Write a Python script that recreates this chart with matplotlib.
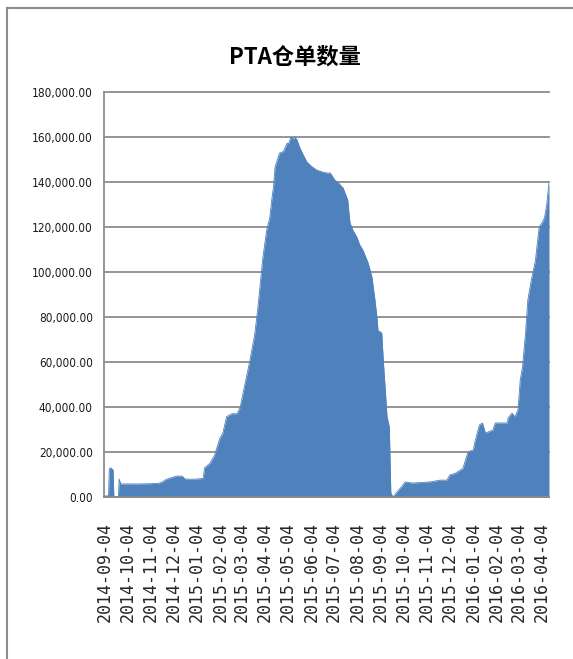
# PTA仓单数量 - area chart

import matplotlib
matplotlib.use("Agg")
import matplotlib.pyplot as plt
from matplotlib.lines import Line2D
from matplotlib.ticker import FuncFormatter
import pandas as pd

plt.rcParams['font.family'] = ['Noto Sans CJK SC', 'DejaVu Sans']

title = "PTA仓单数量"

# дата / количество
dates = [
    "2014-09-04", "2014-09-09", "2014-09-10", "2014-09-12", "2014-09-15", "2014-09-16",
    "2014-09-22", "2014-09-23", "2014-09-25", "2014-10-08", "2014-10-20", "2014-11-03",
    "2014-11-14", "2014-11-18", "2014-11-24", "2014-12-01", "2014-12-08", "2014-12-15",
    "2014-12-19", "2014-12-26", "2015-01-05", "2015-01-12", "2015-01-14", "2015-01-21",
    "2015-01-27", "2015-02-03", "2015-02-07", "2015-02-12", "2015-02-19", "2015-02-26",
    "2015-03-02", "2015-03-08", "2015-03-15", "2015-03-21", "2015-03-25", "2015-04-01",
    "2015-04-06", "2015-04-10", "2015-04-13", "2015-04-15", "2015-04-17", "2015-04-23",
    "2015-04-28", "2015-05-03", "2015-05-05", "2015-05-08", "2015-05-11", "2015-05-13",
    "2015-05-16", "2015-05-20", "2015-05-23", "2015-05-29", "2015-06-04", "2015-06-11",
    "2015-06-18", "2015-06-24", "2015-06-29", "2015-07-05", "2015-07-10", "2015-07-16",
    "2015-07-22", "2015-07-25", "2015-07-29", "2015-08-03", "2015-08-07", "2015-08-11",
    "2015-08-18", "2015-08-23", "2015-08-27", "2015-08-30", "2015-08-31", "2015-09-05",
    "2015-09-07", "2015-09-12", "2015-09-15", "2015-09-17", "2015-09-20", "2015-09-25",
    "2015-10-01", "2015-10-06", "2015-10-15", "2015-10-30", "2015-11-10", "2015-11-21",
    "2015-11-30", "2015-12-04", "2015-12-11", "2015-12-18", "2015-12-21", "2015-12-28",
    "2016-01-04", "2016-01-06", "2016-01-12", "2016-01-16", "2016-01-20", "2016-01-30",
    "2016-02-02", "2016-02-18", "2016-02-19", "2016-02-24", "2016-02-28", "2016-03-03",
    "2016-03-06", "2016-03-09", "2016-03-13", "2016-03-16", "2016-03-21", "2016-03-26",
    "2016-03-31", "2016-04-04", "2016-04-07", "2016-04-10", "2016-04-13",
]
values = [
    500, 500, 12500, 13000, 12000, 0,
    0, 8000, 5800, 5800, 5800, 5900,
    6100, 6500, 7800, 8600, 9300, 9300,
    8000, 7900, 8000, 8300, 13000, 15000,
    18500, 26000, 28400, 35700, 37000, 37000,
    40000, 49800, 61000, 72000, 83000, 106600,
    118700, 124000, 133000, 138000, 146700, 152900,
    153500, 157300, 157000, 160000, 159000, 160000,
    158700, 155000, 152900, 148900, 147000, 145300,
    144500, 144000, 144000, 140900, 139500, 137300,
    132000, 121800, 118500, 115600, 112000, 109800,
    104000, 97800, 87600, 78700, 74000, 72900,
    60900, 35600, 31100, 1800, 0, 2200,
    4500, 6700, 6200, 6500, 6800, 7500,
    7500, 9800, 10500, 12000, 12500, 20000,
    20900, 24400, 32000, 32900, 28400, 29800,
    32900, 32900, 35100, 37300, 35600, 38700,
    52000, 57800, 72900, 87600, 97000, 105000,
    120000, 122000, 124000, 130000, 140000,
]

# подписи оси X
tick_labels = [
    "2014-09-04", "2014-10-04", "2014-11-04", "2014-12-04", "2015-01-04",
    "2015-02-04", "2015-03-04", "2015-04-04", "2015-05-04", "2015-06-04",
    "2015-07-04", "2015-08-04", "2015-09-04", "2015-10-04", "2015-11-04",
    "2015-12-04", "2016-01-04", "2016-02-04", "2016-03-04", "2016-04-04",
]
y_ticks = [0, 20000, 40000, 60000, 80000, 100000, 120000, 140000, 160000, 180000]

x = pd.to_datetime(dates)
ticks = pd.to_datetime(tick_labels)

W, H = 573, 659
fig = plt.figure(figsize=(W / 100, H / 100), dpi=100)
ax = fig.add_axes([104 / W, 1 - 497 / H, (549 - 104) / W, (497 - 92) / H])

ax.fill_between(x, values, 0, color='#4f81bd', lw=0, zorder=2)
ax.plot(x, values, color='#4f81bd', lw=0.6, zorder=2)

ax.set_xlim(pd.Timestamp("2014-09-03"), x[-1])
ax.set_ylim(0, 180000)
ax.set_yticks(y_ticks)
ax.yaxis.set_major_formatter(FuncFormatter(lambda v, p: f"{v:,.2f}"))
ax.set_xticks(ticks)
ax.set_xticklabels(tick_labels, rotation=90, family='DejaVu Sans Mono', fontsize=12,
                   color='#262626', va='top')

# сетка и оси
ax.set_axisbelow(True)
ax.grid(axis='y', color='#8c8c8c', lw=1.3)
for gl in ax.get_ygridlines():
    gl.set_clip_on(False)
ax.grid(axis='x', visible=False)
for s in ['top', 'right']:
    ax.spines[s].set_visible(False)
ax.spines['left'].set_color('#8c8c8c')
ax.spines['bottom'].set_color('#8c8c8c')
ax.spines['left'].set_linewidth(1.3)
ax.spines['bottom'].set_linewidth(1.3)
ax.tick_params(axis='x', length=0, pad=18)
ax.tick_params(axis='y', length=0, pad=8, labelsize=8.5, labelcolor='#1a1a1a')
for lbl in ax.get_yticklabels():
    lbl.set_family('DejaVu Sans')
    lbl.set_stretch('condensed')

fig.text(295 / W, 1 - 57 / H, title, ha='center', va='center', fontsize=16,
         fontweight='semibold', color='#000000')

# рамка
fig.add_artist(Line2D([7 / W, 7 / W], [0, 1 - 8 / H], transform=fig.transFigure,
                      color='#8c8c8c', lw=1.5))
fig.add_artist(Line2D([7 / W, 1], [1 - 8 / H, 1 - 8 / H], transform=fig.transFigure,
                      color='#8c8c8c', lw=1.5))

fig.savefig("out.png", dpi=100)
